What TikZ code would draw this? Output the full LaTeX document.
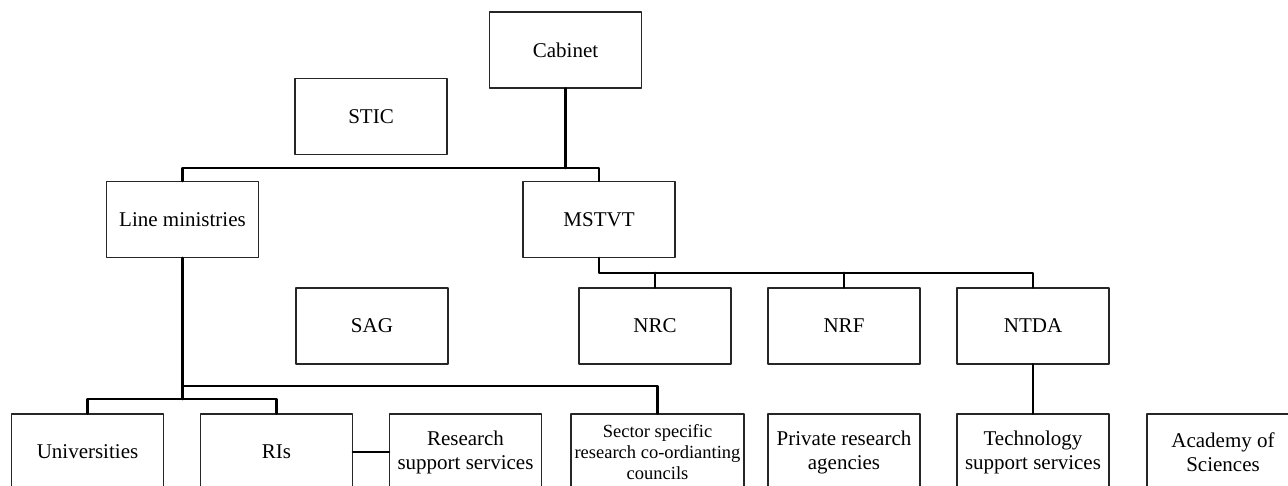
\documentclass[tikz,border=0pt]{standalone}
\usepackage{fontspec}
\setmainfont{Liberation Serif}
\usetikzlibrary{calc,positioning}
\tikzset{
  box/.style={draw=black!85,line width=1.1pt,minimum width=152pt,minimum height=76pt,inner sep=2pt,align=center,font=\fontsize{21}{24}\selectfont},
  conn/.style={line width=2.8pt,color=black}
}
\begin{document}
\begin{tikzpicture}[line cap=round,line join=round,x=1pt,y=1pt]
\useasboundingbox (0,0) rectangle (1288,486);
\clip (0,0) rectangle (1288,486);
\node[box] (cab) at (565.5,436) {Cabinet};
\node[box] (stic) at (371,369.5) {STIC};
\node[box] (lm) at (182.5,266.5) {Line ministries};
\node[box] (mstvt) at (599,266.5) {MSTVT};
\node[box] (sag) at (372,160) {SAG};
\node[box] (nrc) at (655,160) {NRC};
\node[box] (nrf) at (844,160) {NRF};
\node[box] (ntda) at (1033,160) {NTDA};
%bottom row
\node[box] (univ) at (87.5,34) {Universities};
\node[box] (ris) at (276.5,34) {RIs};
\node[box] (rss) at (465.5,34) {Research\\support services};
\node[box,minimum width=173pt,font=\fontsize{18.5}{20.7}\selectfont] (sector) at (657.5,34) {Sector specific\\research co-ordianting\\councils};
\node[box] (pra) at (844,34) {Private research\\agencies};
\node[box] (tss) at (1033,34) {Technology\\support services};
\node[box] (acad) at (1223,34) {Academy of\\Sciences};
\coordinate (bar1) at (0,318);
\coordinate (bar2) at (0,213);
\coordinate (bar3) at (0,100);
\coordinate (bar4) at (0,87);
\draw[conn] (cab.south) -- (cab.south |- bar1);
\draw[conn] (lm.north) -- (lm.north |- bar1) -- (mstvt.north |- bar1) -- (mstvt.north);
\draw[conn] (mstvt.south) -- (mstvt.south |- bar2) -- (ntda.north |- bar2) -- (ntda.north);
\foreach \n in {nrc,nrf}
    \draw[conn] (\n.north) -- (\n.north |- bar2);
\draw[conn] (ntda.south) -- (tss.north);
\draw[conn] (lm.south) -- (lm.south |- bar4);
\draw[conn] (lm.south |- bar3) -- (sector.north |- bar3) -- (sector.north);
\draw[conn] (univ.north) -- (univ.north |- bar4) -- (ris.north |- bar4) -- (ris.north);
\draw[conn] (ris.east) -- (rss.west);
\end{tikzpicture}
\end{document}
